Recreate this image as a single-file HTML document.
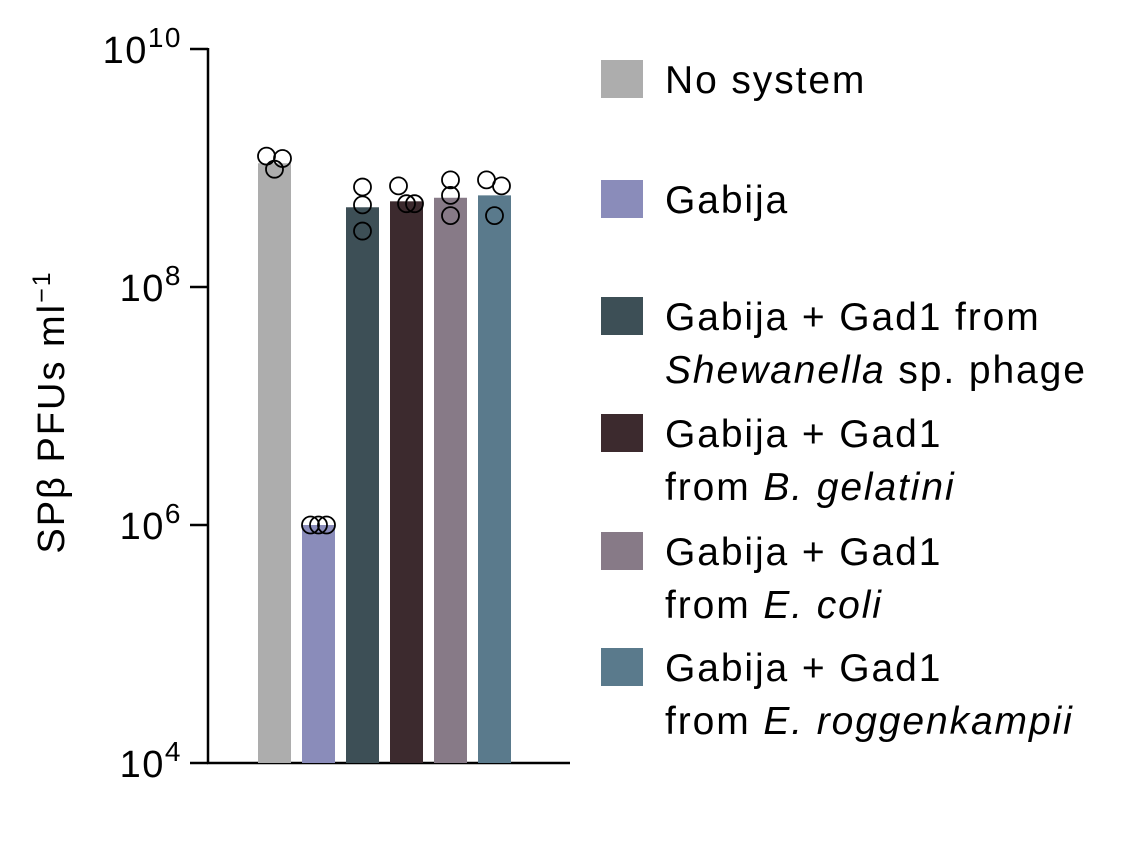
<!DOCTYPE html>
<html><head><meta charset="utf-8"><style>
body{margin:0;background:#fff;font-family:"Liberation Sans",Arial,sans-serif}
</style></head><body>
<svg id="chart" width="1126" height="836" xmlns="http://www.w3.org/2000/svg" font-family="Liberation Sans, Arial, sans-serif">
</svg>
<script>
const categories=["No system","Gabija","Shewanella","B. gelatini","E. coli","E. roggenkampii"];
const barLogValues=[9.04,6.0,8.67,8.72,8.75,8.77];
const pointLogValues=[[9.10,9.08,8.99],[6.0,6.0,6.0],[8.84,8.69,8.47],[8.85,8.70,8.70],[8.90,8.77,8.60],[8.90,8.85,8.60]];
const tickExps=[4,6,8,10];
const colors=["#adadad","#8a8cba","#3d4f56","#3c2a2e","#877a87","#5a7a8c"];
const jitter=[[-8,8,0],[-8,0,8],[0,0,0],[-8,0,8],[0,0,0],[-8,7,0]];
const svg=document.getElementById('chart');const NS="http://www.w3.org/2000/svg";
function mk(t,a,p){const e=document.createElementNS(NS,t);for(const k in a)e.setAttribute(k,a[k]);(p||svg).appendChild(e);return e;}
const y=v=>763-(v-4)*119;
const x=i=>258+i*44;
const bw=33;
let ax=mk('line',{x1:208,y1:48,x2:208,y2:764,stroke:'#000','stroke-width':2.5});


let xa=mk('line',{x1:207,y1:763,x2:570,y2:763,stroke:'#000','stroke-width':2.5});


tickExps.forEach(e=>{
 const t=mk('line',{x1:190,y1:y(e),x2:208,y2:y(e),stroke:'#000','stroke-width':2.5});
 
 
 const tx=mk('text',{x:182,y:y(e)+14,'text-anchor':'end','font-size':38,'letter-spacing':1.5});
 
 
 tx.innerHTML='10<tspan dy="-16" font-size="28">'+e+'</tspan>';
});
const yl=mk('text',{transform:'translate(64,412) rotate(-90)','text-anchor':'middle','font-size':38,'letter-spacing':2});


yl.innerHTML='SPβ PFUs ml<tspan dy="-14" font-size="25">−1</tspan>';
barLogValues.forEach((v,i)=>{
 const r=mk('rect',{x:x(i),y:y(v),width:bw,height:763-y(v),fill:colors[i]});
 
 
});
pointLogValues.forEach((arr,i)=>arr.forEach((v,j)=>{
 const c=mk('circle',{cx:x(i)+bw/2+jitter[i][j],cy:y(v),r:8.5,fill:'none',stroke:'#000','stroke-width':1.8});
 
 
}));
const leg=[[79,'No system'],[199,'Gabija'],[316,'Gabija + Gad1 from','<tspan font-style="italic">Shewanella</tspan> sp. phage'],[433,'Gabija + Gad1','from <tspan font-style="italic">B. gelatini</tspan>'],[551,'Gabija + Gad1','from <tspan font-style="italic">E. coli</tspan>'],[667,'Gabija + Gad1','from <tspan font-style="italic">E. roggenkampii</tspan>']];
leg.forEach((l,i)=>{
 const g=mk('g',{});
 
 
 mk('rect',{x:601,y:l[0]-19,width:42,height:38,fill:colors[i]},g);
 const t=mk('text',{x:665,y:l[0]+14,'font-size':39,'letter-spacing':1.9},g);t.innerHTML=l[1];
 if(l[2]){const t2=mk('text',{x:665,y:l[0]+67,'font-size':39,'letter-spacing':1.9},g);t2.innerHTML=l[2];}
});
</script>
</body></html>
